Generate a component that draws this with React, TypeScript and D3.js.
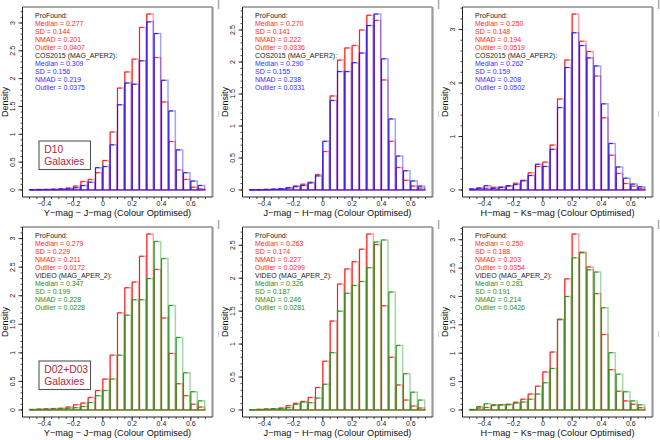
import React from 'react';
import * as d3 from 'd3';

const W = 660, H = 440;
const FONT = '"Liberation Sans", Arial, Helvetica, sans-serif';

const binEdges = [-0.5, -0.45, -0.4, -0.35, -0.3, -0.25, -0.2, -0.15, -0.1, -0.05, 0, 0.05, 0.1, 0.15, 0.2, 0.25, 0.3, 0.35, 0.4, 0.45, 0.5, 0.55, 0.6, 0.65, 0.7];
const xMajorTicks = [-0.4, -0.2, 0, 0.2, 0.4, 0.6];
const xTickLabels = ['\u22120.4', '\u22120.2', '0', '0.2', '0.4', '0.6'];

const p1Red = [0.005, 0.01, 0.01, 0.015, 0.02, 0.035, 0.07, 0.15, 0.19, 0.31, 0.53, 1.04, 1.83, 2.12, 2.35, 2.92, 3.16, 2.38, 1.58, 0.87, 0.36, 0.19, 0.05, 0.02];
const p1Blue = [0.003, 0.005, 0.008, 0.01, 0.015, 0.02, 0.04, 0.08, 0.14, 0.40, 0.42, 0.81, 1.53, 1.92, 1.90, 2.32, 3.02, 2.81, 1.97, 1.42, 0.72, 0.31, 0.16, 0.08];
const p2Red = [0.003, 0.005, 0.008, 0.01, 0.015, 0.03, 0.05, 0.09, 0.12, 0.24, 0.60, 1.47, 2.03, 2.22, 2.26, 2.50, 2.73, 2.65, 1.72, 0.76, 0.35, 0.15, 0.06, 0.03];
const p2Blue = [0.003, 0.005, 0.008, 0.012, 0.02, 0.035, 0.06, 0.07, 0.11, 0.22, 0.76, 1.40, 1.85, 1.85, 1.99, 2.14, 2.57, 2.75, 2.05, 1.11, 0.53, 0.30, 0.14, 0.06];
const p3Red = [0.01, 0.037, 0.03, 0.05, 0.056, 0.07, 0.125, 0.18, 0.32, 0.44, 0.52, 0.84, 1.70, 2.43, 3.29, 2.78, 2.59, 2.13, 1.35, 0.65, 0.31, 0.12, 0.07, 0.03];
const p3Blue = [0.02, 0.03, 0.08, 0.03, 0.045, 0.08, 0.10, 0.17, 0.27, 0.48, 0.44, 0.76, 1.54, 2.29, 2.94, 2.70, 2.47, 2.32, 1.61, 0.87, 0.43, 0.22, 0.11, 0.06];
const p4Red = [0.01, 0.015, 0.02, 0.025, 0.03, 0.05, 0.09, 0.12, 0.22, 0.34, 0.54, 0.96, 1.70, 2.14, 2.24, 2.69, 3.08, 2.46, 1.61, 0.99, 0.46, 0.25, 0.10, 0.05];
const p4Green = [0.005, 0.008, 0.01, 0.015, 0.02, 0.03, 0.04, 0.06, 0.13, 0.25, 0.34, 0.54, 0.96, 1.66, 1.93, 1.93, 2.30, 2.95, 2.65, 1.83, 1.27, 0.65, 0.32, 0.16];
const p5Red = [0.005, 0.01, 0.015, 0.02, 0.03, 0.065, 0.10, 0.13, 0.19, 0.34, 0.74, 1.35, 1.91, 2.14, 2.25, 2.44, 2.67, 2.51, 1.58, 0.80, 0.38, 0.15, 0.06, 0.03];
const p5Green = [0.003, 0.005, 0.01, 0.015, 0.02, 0.035, 0.085, 0.12, 0.11, 0.18, 0.39, 0.87, 1.50, 1.77, 1.89, 1.95, 2.16, 2.55, 2.58, 1.79, 0.98, 0.55, 0.27, 0.15];
const p6Red = [0.005, 0.035, 0.045, 0.08, 0.09, 0.10, 0.135, 0.19, 0.28, 0.42, 0.67, 1.02, 1.60, 2.31, 3.10, 2.77, 2.52, 2.05, 1.33, 0.71, 0.33, 0.16, 0.10, 0.04];
const p6Green = [0.01, 0.06, 0.11, 0.09, 0.09, 0.09, 0.12, 0.14, 0.19, 0.28, 0.48, 0.73, 1.59, 2.00, 2.68, 2.78, 2.47, 2.43, 1.80, 1.01, 0.63, 0.32, 0.16, 0.09];

const xTitles = [
  'Y\u2212mag \u2212 J\u2212mag (Colour Optimised)',
  'J\u2212mag \u2212 H\u2212mag (Colour Optimised)',
  'H\u2212mag \u2212 Ks\u2212mag (Colour Optimised)',
];
const compHeaders = ['COS2015 (MAG_APER2):', 'VIDEO (MAG_APER_2):'];
const boxLabels = [['D10', 'Galaxies'], ['D02+D03', 'Galaxies']];

// [median, sd, nmad, outlier] for ProFound and comparison
const p1Stats = [['0.277', '0.144', '0.201', '0.0407'], ['0.309', '0.156', '0.219', '0.0375']];
const p2Stats = [['0.270', '0.141', '0.222', '0.0336'], ['0.290', '0.155', '0.238', '0.0331']];
const p3Stats = [['0.250', '0.148', '0.194', '0.0519'], ['0.262', '0.159', '0.208', '0.0502']];
const p4Stats = [['0.279', '0.229', '0.211', '0.0172'], ['0.347', '0.199', '0.228', '0.0228']];
const p5Stats = [['0.263', '0.174', '0.227', '0.0299'], ['0.326', '0.187', '0.246', '0.0281']];
const p6Stats = [['0.250', '0.188', '0.203', '0.0354'], ['0.281', '0.191', '0.214', '0.0426']];
const statNames = ['Median', 'SD', 'NMAD', 'Outlier'];

const RED = '#ff1c1c';
const BLUE = '#1c1cff';
const GREEN = '#1e9a1e';
const RED_T = '#ff2a2a';
const BLUE_T = '#3030ff';
const GREEN_T = '#2a8a2a';

type PanelProps = {
  col: number; row: number; a: number[]; b: number[];
  colB: string; colBText: string; stats: string[][]; yStep: number;
};

function Bars({ vals, color, x, y }: { vals: number[]; color: string; x: any; y: any }) {
  const y0 = y(0);
  const light: string[] = [];
  const dark: string[] = [];
  vals.forEach((v, i) => {
    const x0 = x(binEdges[i]);
    const x1 = x(binEdges[i + 1]);
    const yt = y(v);
    light.push(`M${x0},${y0}V${yt}H${x1 - 0.8}V${y0}`);
    dark.push(`M${x0},${y0}V${yt}H${x0 + 0.55 * (x1 - x0)}`);
  });
  return (
    <g fill="none">
      <path d={light.join('')} stroke={color} strokeOpacity={0.4} strokeWidth={1.5} />
      <path d={dark.join('')} stroke={color} strokeWidth={1} />
      <line x1={x(binEdges[0])} x2={x(binEdges[binEdges.length - 1])} y1={y0} y2={y0} stroke={color} strokeWidth={1} />
    </g>
  );
}

function Panel({ col, row, a, b, colB, colBText, stats, yStep }: PanelProps) {
  const ox = 220 * col, oy = 220 * row;
  const L = ox + 22.5, R = ox + 212.5, T = oy + 7, B = oy + 197;
  const m = d3.max([...a, ...b]) as number;
  const x = d3.scaleLinear().domain([-0.548, 0.748]).range([L, R]);
  const y = d3.scaleLinear().domain([-0.04 * m, 1.04 * m]).range([B, T]);
  const yMajor = d3.range(0, 1.04 * m + 1e-9, yStep);
  const minorStep = yStep === 1 ? 0.2 : 0.1;
  const yMinor = d3.range(0, 1.04 * m + 1e-9, minorStep);
  const fmt = (v: number) => String(Math.round(v * 10) / 10);
  const lines: { t: string; c: string }[] = [
    { t: 'ProFound:', c: '#222' },
    ...statNames.map((n, i) => ({ t: `${n} = ${stats[0][i]}`, c: RED_T })),
    { t: compHeaders[row], c: '#222' },
    ...statNames.map((n, i) => ({ t: `${n} = ${stats[1][i]}`, c: colBText })),
  ];
  return (
    <g fontFamily={FONT}>
      <rect x={L} y={T} width={R - L} height={B - T} fill="white" />
      <Bars vals={a} color={RED} x={x} y={y} />
      <Bars vals={b} color={colB} x={x} y={y} />
      {/* box */}
      <line x1={L} x2={R} y1={T} y2={T} stroke="#555" strokeWidth={1} />
      <line x1={R} x2={R} y1={T} y2={B} stroke="#999" strokeWidth={2.2} />
      <line x1={L} x2={L} y1={T} y2={B} stroke="#222" strokeWidth={1} />
      <line x1={L} x2={R} y1={B} y2={B} stroke="#222" strokeWidth={1} />
      {/* x ticks */}
      {binEdges.map((v, i) => (
        <line key={'xm' + i} x1={x(v)} x2={x(v)} y1={B} y2={B + 2} stroke="#222" strokeWidth={0.8} />
      ))}
      {xMajorTicks.map((v, i) => (
        <g key={'xM' + i}>
          <line x1={x(v)} x2={x(v)} y1={B} y2={B + 4} stroke="#222" strokeWidth={0.9} />
          <text x={x(v)} y={B + 9} fontSize={7} textAnchor="middle" fill="#222">{xTickLabels[i]}</text>
        </g>
      ))}
      {/* y ticks */}
      {yMinor.map((v, i) => (
        <line key={'ym' + i} x1={L - 2} x2={L} y1={y(v)} y2={y(v)} stroke="#222" strokeWidth={0.8} />
      ))}
      {yMajor.map((v, i) => (
        <g key={'yM' + i}>
          <line x1={L - 4} x2={L} y1={y(v)} y2={y(v)} stroke="#222" strokeWidth={0.9} />
          <text transform={`translate(${L - 7.3},${y(v)}) rotate(-90)`} fontSize={7} textAnchor="middle" fill="#222">{fmt(v)}</text>
        </g>
      ))}
      <text transform={`translate(${ox + 7.5},${(T + B) / 2}) rotate(-90)`} fontSize={9} textAnchor="middle" fill="#111">Density</text>
      <text x={(L + R) / 2} y={oy + 215.5} fontSize={9.2} textAnchor="middle" fill="#111">{xTitles[col]}</text>
      {lines.map((l, i) => (
        <text key={'s' + i} x={L + 12.5} y={T + 11 + 8 * i} fontSize={7} fill={l.c}>{l.t}</text>
      ))}
      {col === 0 && (
        <g>
          <rect x={ox + 39} y={oy + 141} width={51.5} height={28.5} fill="white" stroke="#555" strokeWidth={1.1} />
          <text x={ox + 44.3} y={oy + 153.2} fontSize={10.3} fill="#b0283a">{boxLabels[row][0]}</text>
          <text x={ox + 44.3} y={oy + 165} fontSize={10.3} fill="#b0283a">{boxLabels[row][1]}</text>
        </g>
      )}
      <line x1={ox + 218.6} x2={ox + 218.6} y1={oy} y2={oy + 9} stroke="#aaa" strokeWidth={1.5} />
      <line x1={ox + 218.6} x2={ox + 218.6} y1={oy + 111} y2={oy + 117} stroke="#ccc" strokeWidth={1} />
    </g>
  );
}

export default function App() {
  return (
    <svg width={W} height={H} style={{ position: 'absolute', left: 0, top: 0, background: 'white' }}>
      <rect width={W} height={H} fill="white" />
      <Panel col={0} row={0} a={p1Red} b={p1Blue} colB={BLUE} colBText={BLUE_T} stats={p1Stats} yStep={0.5} />
      <Panel col={1} row={0} a={p2Red} b={p2Blue} colB={BLUE} colBText={BLUE_T} stats={p2Stats} yStep={0.5} />
      <Panel col={2} row={0} a={p3Red} b={p3Blue} colB={BLUE} colBText={BLUE_T} stats={p3Stats} yStep={1} />
      <Panel col={0} row={1} a={p4Red} b={p4Green} colB={GREEN} colBText={GREEN_T} stats={p4Stats} yStep={0.5} />
      <Panel col={1} row={1} a={p5Red} b={p5Green} colB={GREEN} colBText={GREEN_T} stats={p5Stats} yStep={0.5} />
      <Panel col={2} row={1} a={p6Red} b={p6Green} colB={GREEN} colBText={GREEN_T} stats={p6Stats} yStep={0.5} />
    </svg>
  );
}
